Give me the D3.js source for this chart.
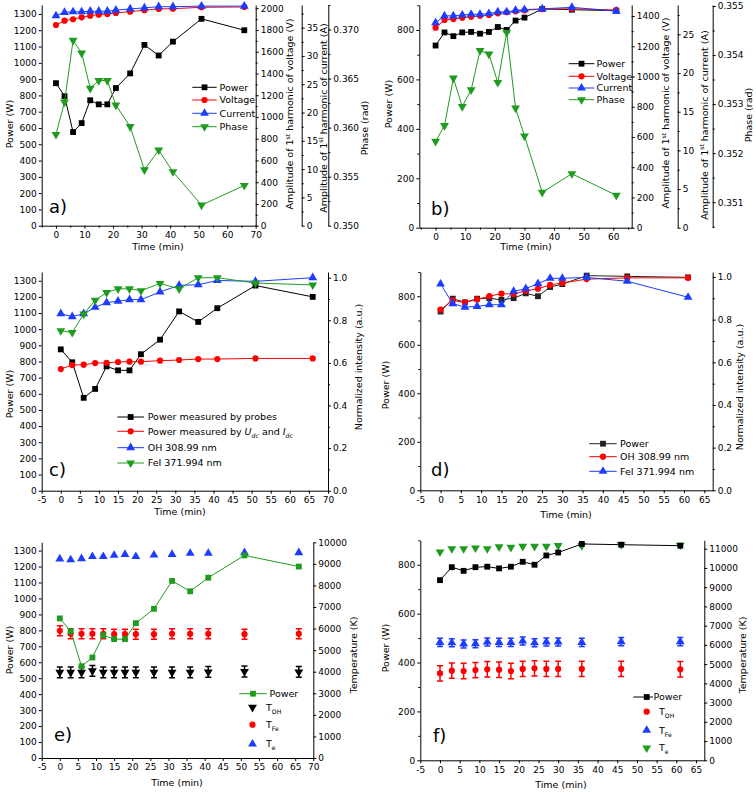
<!DOCTYPE html>
<html><head><meta charset="utf-8">
<script src="https://cdn.jsdelivr.net/npm/d3@7"></script>
<style>body{margin:0;background:#fff} text{font-family:"DejaVu Sans",sans-serif;fill:#000}</style>
</head><body><svg id="c" width="756" height="792"></svg>
<script>
// ---------- DATA ----------
const timeA = [0,3,6,9,12,15,18,21,26,31,36,41,51,66];
const timeB = [0,3,6,9,12,15,18,21,24,27,30,36,46,61];
// panel a / c / e
const powerA   = [875,795,575,630,770,745,745,845,935,1110,1045,1130,1270,1200];
const voltageA = [1846,1886,1899,1917,1932,1941,1948,1957,1969,1982,1994,1996,2009,2012];
const currentA = [37.1,37.7,37.8,37.8,37.9,37.9,37.9,38.1,38.3,38.5,38.7,38.7,38.8,38.8];
const phaseA   = [0.3593,0.3626,0.3689,0.3676,0.3640,0.3648,0.3648,0.3623,0.3601,0.3557,0.3577,0.3555,0.3521,0.3541];
// panel b / d / f
const powerB   = [737,790,775,790,792,785,792,812,800,838,850,885,882,878];
const voltageB = [1323,1374,1380,1389,1395,1402,1407,1418,1425,1431,1438,1446,1448,1440];
const currentB = [26.5,27.4,27.4,27.5,27.6,27.6,27.7,27.9,27.9,28.1,28.2,28.3,28.5,28.0];
const phaseB   = [0.35224,0.35256,0.35353,0.35295,0.35329,0.35409,0.35402,0.35344,0.35446,0.35292,0.35235,0.35120,0.35158,0.35114];
// panel c
const powerUdcIdcC = [753,778,780,790,792,797,799,799,805,809,815,815,819,819];
const ohC  = [0.831,0.817,0.831,0.861,0.883,0.890,0.897,0.897,0.933,0.964,0.967,0.987,0.983,1.0];
const feC  = [0.751,0.743,0.829,0.894,0.930,0.948,0.948,0.939,0.973,0.948,1.0,1.0,0.975,0.966];
// panel d
const ohD  = [0.847,0.890,0.880,0.895,0.910,0.922,0.920,0.935,0.945,0.963,0.972,0.990,0.996,0.996];
const feD  = [0.967,0.875,0.859,0.862,0.870,0.870,0.933,0.945,0.969,0.994,0.994,0.998,0.980,0.905];
// panel e (temperatures, K)
const tOhE = [3970,3970,3970,4040,3970,3970,3970,3970,3970,3970,3970,3990,4010,3990];
const tOhErrE = 250;
const tFeE = [5900,5760,5760,5760,5760,5740,5740,5740,5740,5760,5760,5760,5740,5760];
const tFeErrE = 230;
const tElE = [9230,9190,9240,9340,9340,9400,9440,9340,9410,9440,9490,9490,9520,9520];
// panel f (temperatures, K)
const tOhF = [4520,4660,4640,4690,4730,4710,4640,4750,4780,4750,4750,4750,4750,4730];
const tOhErrF = 400;
const tFeF = [6130,6110,6050,6060,6150,6130,6130,6200,6110,6150,6150,6130,6170,6170];
const tFeErrF = 210;
const tElF = [10830,11000,11000,11040,11000,11100,11070,11120,11120,11120,11160,11160,11210,11180];

const range = (a,b,s) => d3.range(a, b + s/2, s);
const plainInt = d => String(Math.round(d));

const C = {black:"#000", red:"#ff0000", blue:"#1c3cff", green:"#1f9c1f"};
const svg = d3.select('#c');
svg.append('rect').attr('width',756).attr('height',792).attr('fill','#fff');

function rich(sel, parts, size){
  let shift = 0;
  parts.forEach(p=>{
    const t = typeof p === 'string' ? {s:p,k:0} : p;
    const target = t.k===1 ? -size*0.4 : t.k===-1 ? size*0.3 : 0;
    const ts = sel.append('tspan').text(t.s);
    if (target - shift !== 0) ts.attr('dy', target - shift);
    if (t.k) ts.attr('font-size', size*0.65);
    if (t.it) ts.attr('font-style','italic');
    shift = target;
  });
}
function vtitle(g, x, cy, parts, size){
  const t = g.append('text').attr('transform',`translate(${x},${cy}) rotate(-90)`)
    .attr('y', size*0.36).attr('text-anchor','middle').attr('font-size',size);
  rich(t, parts, size);
}
function marker(g, type, cx, cy, color){
  const s = {square:d3.symbolSquare, circle:d3.symbolCircle, up:d3.symbolTriangle, down:d3.symbolTriangle}[type];
  const size = {square:34, circle:30, up:34, down:34}[type];
  g.append('path').attr('d', d3.symbol(s,size)())
    .attr('transform',`translate(${cx},${cy})${type==='down'?' rotate(180)':''}`)
    .attr('fill',color);
}
function styleAxis(sel){
  sel.selectAll('path,line').attr('stroke','#000').attr('stroke-width',1);
  sel.selectAll('text').attr('font-size',9).attr('fill','#000').style('font-family','"DejaVu Sans",sans-serif');
}
function panel(o){
  const g = svg.append('g');
  const x = d3.scaleLinear().domain(o.xDomain).range([o.L,o.R]);
  const y = d3.scaleLinear().domain(o.yDomain).range([o.B,o.T]);
  g.append('g').attr('transform',`translate(0,${o.B})`)
    .call(d3.axisBottom(x).tickValues(o.xTicks).tickSize(3).tickSizeOuter(0).tickPadding(3).tickFormat(plainInt))
    .call(styleAxis);
  if (o.xMinor) g.append('g').attr('transform',`translate(0,${o.B})`)
    .call(d3.axisBottom(x).tickValues(o.xMinor).tickSize(2).tickFormat(''))
    .call(s=>s.select('.domain').remove()).call(styleAxis);
  g.append('g').attr('transform',`translate(${o.L},0)`)
    .call(d3.axisLeft(y).tickValues(o.yTicks).tickSize(3).tickSizeOuter(0).tickPadding(2).tickFormat(plainInt))
    .call(styleAxis);
  if (o.yMinor) g.append('g').attr('transform',`translate(${o.L},0)`)
    .call(d3.axisLeft(y).tickValues(o.yMinor).tickSize(2).tickFormat(''))
    .call(s=>s.select('.domain').remove()).call(styleAxis);
  const rs = o.right.map(r=>{
    const s = d3.scaleLinear().domain(r.domain).range([o.B,o.T]);
    g.append('g').attr('transform',`translate(${r.x},0)`)
      .call(d3.axisRight(s).tickValues(r.ticks).tickSize(3).tickSizeOuter(0).tickPadding(2).tickFormat(r.fmt?d3.format(r.fmt):plainInt))
      .call(styleAxis);
    if (r.minor) g.append('g').attr('transform',`translate(${r.x},0)`)
      .call(d3.axisRight(s).tickValues(r.minor).tickSize(2).tickFormat(''))
      .call(q=>q.select('.domain').remove()).call(styleAxis);
    vtitle(g, r.tx, r.ty, r.title, 9.5);
    return s;
  });
  vtitle(g, o.lx, o.ly, ['Power (W)'], 9.5);
  g.append('text').attr('x',o.tx).attr('y',o.ty).attr('text-anchor','middle').attr('font-size',9.5).text('Time (min)');
  g.append('text').attr('x',o.labX).attr('y',o.labY).attr('font-size',18).text(o.label);
  return {g,x,y,rs};
}
function series(p, xs, ys, ys_, color, sym, opt={}){
  if (opt.line !== false){
    p.g.append('path').datum(xs.map((d,i)=>[d,ys[i]]))
      .attr('d', d3.line().x(d=>p.x(d[0])).y(d=>ys_(d[1])))
      .attr('fill','none').attr('stroke',opt.lc||color).attr('stroke-width',1);
  }
  xs.forEach((d,i)=>{
    const cx = p.x(d), cy = ys_(ys[i]);
    if (opt.err){
      const y1 = ys_(ys[i]+opt.err), y2 = ys_(ys[i]-opt.err);
      p.g.append('path').attr('d',`M${cx},${y1}V${y2}M${cx-3},${y1}H${cx+3}M${cx-3},${y2}H${cx+3}`)
        .attr('stroke',color).attr('stroke-width',1.5).attr('fill','none');
    }
    marker(p.g, sym, cx, cy, color);
  });
}
function legend(g, items, x1, x2, tx, size){
  items.forEach(it=>{
    if (it.line) g.append('line').attr('x1',x1).attr('x2',x2).attr('y1',it.y).attr('y2',it.y).attr('stroke',it.lc||it.c).attr('stroke-width',1);
    marker(g, it.sym, it.mx!==undefined?it.mx:(x1+x2)/2, it.y, it.c);
    const t = g.append('text').attr('x', it.tx!==undefined?it.tx:tx).attr('y', it.y + size*0.36).attr('font-size', size);
    rich(t, it.label, size);
  });
}

// ---------- PANEL a ----------
const pa = panel({L:41.7,R:255.7,T:5,B:225.7, xDomain:[-5,70], xTicks:range(0,70,10), xMinor:range(-5,65,10),
  yDomain:[0,1355], yTicks:range(0,1300,100),
  right:[
    {x:255.7, domain:[0,2030], ticks:range(0,2000,200), minor:range(100,1900,200), tx:290, ty:114, title:['Amplitude of 1',{s:'st',k:1},' harmonic of voltage (V)']},
    {x:301.7, domain:[0,39], ticks:range(0,35,5), minor:range(2.5,37.5,5), tx:323.5, ty:118, title:['Amplitude of 1',{s:'st',k:1},' harmonic of current (A)']},
    {x:328.3, domain:[0.350,0.3725], ticks:range(0.350,0.370,0.005), minor:range(0.3525,0.3725,0.005), fmt:'.3f', tx:365, ty:128, title:['Phase (rad)']}
  ],
  lx:10, ly:124, tx:158, ty:250, label:'a)', labX:49, labY:213});
series(pa, timeA, powerA, pa.y, C.black, 'square');
series(pa, timeA, voltageA, pa.rs[0], C.red, 'circle');
series(pa, timeA, currentA, pa.rs[1], C.blue, 'up');
series(pa, timeA, phaseA, pa.rs[2], C.green, 'down');
legend(pa.g, [
  {y:87.3, c:C.black, sym:'square', line:true, label:['Power']},
  {y:100, c:C.red, sym:'circle', line:true, label:['Voltage']},
  {y:113.3, c:C.blue, sym:'up', line:true, label:['Current']},
  {y:126.7, c:C.green, sym:'down', line:true, label:['Phase']}
], 192.3, 216.7, 219.5, 9.5);

// ---------- PANEL b ----------
const pb = panel({L:419.3,R:631.7,T:5,B:227.7, xDomain:[-5.5,66.2], xTicks:range(0,60,10), xMinor:range(-5,65,10),
  yDomain:[0,901], yTicks:range(0,800,200), yMinor:range(100,900,200),
  right:[
    {x:631.7, domain:[0,1473], ticks:range(0,1400,200), minor:range(100,1300,200), tx:666, ty:113, title:['Amplitude of 1',{s:'st',k:1},' harmonic of voltage (V)']},
    {x:677.7, domain:[0,28.8], ticks:range(0,25,5), minor:range(2.5,27.5,5), tx:704.3, ty:125, title:['Amplitude of 1',{s:'st',k:1},' harmonic of current (A)']},
    {x:712.7, domain:[0.35048,0.35502], ticks:range(0.351,0.355,0.001), minor:range(0.3505,0.3545,0.001), fmt:'.3f', tx:749, ty:115, title:['Phase (rad)']}
  ],
  lx:389, ly:104, tx:526, ty:250, label:'b)', labX:431, labY:215});
series(pb, timeB, powerB, pb.y, C.black, 'square');
series(pb, timeB, voltageB, pb.rs[0], C.red, 'circle');
series(pb, timeB, currentB, pb.rs[1], C.blue, 'up');
series(pb, timeB, phaseB, pb.rs[2], C.green, 'down');
legend(pb.g, [
  {y:63.7, c:C.black, sym:'square', line:true, label:['Power']},
  {y:76.3, c:C.red, sym:'circle', line:true, label:['Voltage']},
  {y:88, c:C.blue, sym:'up', line:true, label:['Current']},
  {y:99.7, c:C.green, sym:'down', line:true, label:['Phase']}
], 568.7, 594.3, 596.5, 9.5);

// ---------- PANEL c ----------
const pc = panel({L:41.7,R:328,T:272,B:490.7, xDomain:[-5,70], xTicks:range(-5,70,5),
  yDomain:[0,1354], yTicks:range(0,1300,100),
  right:[{x:328, domain:[0,1.0268], ticks:range(0,1.0,0.2), minor:range(0.1,0.9,0.2), fmt:'.1f', tx:358.5, ty:367, title:['Normalized intensity (a.u.)']}],
  lx:10, ly:394, tx:180, ty:515, label:'c)', labX:49, labY:476});
series(pc, timeA, powerA, pc.y, C.black, 'square');
series(pc, timeA, powerUdcIdcC, pc.y, C.red, 'circle');
series(pc, timeA, ohC, pc.rs[0], C.blue, 'up');
series(pc, timeA, feC, pc.rs[0], C.green, 'down');
legend(pc.g, [
  {y:417, c:C.black, sym:'square', line:true, label:['Power measured by probes']},
  {y:431.3, c:C.red, sym:'circle', line:true, label:['Power measured by ',{s:'U',it:true},{s:'dc',k:-1,it:true},' and ',{s:'I',it:true},{s:'dc',k:-1,it:true}]},
  {y:447.7, c:C.blue, sym:'up', line:true, label:['OH 308.99 nm']},
  {y:463, c:C.green, sym:'down', line:true, label:['FeI 371.994 nm']}
], 117.3, 144, 147.7, 9.5);

// ---------- PANEL d ----------
const pd = panel({L:420.3,R:712.7,T:272,B:490.3, xDomain:[-5,67.07], xTicks:range(-5,65,5),
  yDomain:[0,900], yTicks:range(0,800,200), yMinor:range(100,900,200),
  right:[{x:712.7, domain:[0,1.0234], ticks:range(0,1.0,0.2), minor:range(0.1,0.9,0.2), fmt:'.1f', tx:739.5, ty:387, title:['Normalized intensity (a.u.)']}],
  lx:386, ly:385, tx:566, ty:518, label:'d)', labX:431, labY:476});
series(pd, timeB, powerB, pd.y, "#222", 'square');
series(pd, timeB, ohD, pd.rs[0], C.red, 'circle');
series(pd, timeB, feD, pd.rs[0], C.blue, 'up');
legend(pd.g, [
  {y:443.7, c:"#222", sym:'square', line:true, label:['Power']},
  {y:456.7, c:C.red, sym:'circle', line:true, label:['OH 308.99 nm']},
  {y:471.3, c:C.blue, sym:'up', line:true, label:['FeI 371.994 nm']}
], 589.3, 616.7, 620, 9.5);

// ---------- PANEL e ----------
const pe = panel({L:41.7,R:313.3,T:542.3,B:758, xDomain:[-5,70], xTicks:range(-5,70,5),
  yDomain:[0,1352], yTicks:range(0,1300,100),
  right:[{x:313.3, domain:[0,10000], ticks:range(0,10000,1000), tx:354, ty:655, title:['Temperature (K)']}],
  lx:10, ly:650, tx:177, ty:786, label:'e)', labX:54, labY:741});
series(pe, timeA, tOhE, pe.rs[0], C.black, 'down', {line:false, err:tOhErrE});
series(pe, timeA, tFeE, pe.rs[0], C.red, 'circle', {line:false, err:tFeErrE});
series(pe, timeA, tElE, pe.rs[0], C.blue, 'up', {line:false});
series(pe, timeA, powerA, pe.y, C.green, 'square');
legend(pe.g, [
  {y:693.7, c:C.green, sym:'square', line:true, label:['Power']},
  {y:707.3, c:C.black, sym:'down', mx:252.5, tx:266, label:['T',{s:'OH',k:-1}]},
  {y:724.7, c:C.red, sym:'circle', mx:252.5, tx:266, label:['T',{s:'Fe',k:-1}]},
  {y:744, c:C.blue, sym:'up', mx:252.5, tx:266, label:['T',{s:'e',k:-1}]}
], 239.3, 266.7, 269.5, 9.5);

// ---------- PANEL f ----------
const pf = panel({L:420.3,R:704.3,T:540.3,B:760.3, xDomain:[-5,67.1], xTicks:range(-5,65,5),
  yDomain:[0,900], yTicks:range(0,800,200), yMinor:range(100,900,200),
  right:[{x:704.3, domain:[0,11437], ticks:range(0,11000,1000), tx:743, ty:655, title:['Temperature (K)']}],
  lx:386, ly:648, tx:561, ty:788, label:'f)', labX:433, labY:742});
series(pf, timeB, tOhF, pf.rs[0], C.red, 'circle', {line:false, err:tOhErrF});
series(pf, timeB, tFeF, pf.rs[0], C.blue, 'up', {line:false, err:tFeErrF});
series(pf, timeB, tElF, pf.rs[0], C.green, 'down', {line:false});
series(pf, timeB, powerB, pf.y, C.black, 'square');
legend(pf.g, [
  {y:697, c:C.black, sym:'square', line:true, mx:646.7, tx:653.5, label:['Power']},
  {y:711.7, c:C.red, sym:'circle', mx:646.7, tx:659, label:['T',{s:'OH',k:-1}]},
  {y:730.3, c:C.blue, sym:'up', mx:646.7, tx:659, label:['T',{s:'Fe',k:-1}]},
  {y:748, c:C.green, sym:'down', mx:646.7, tx:659, label:['T',{s:'e',k:-1}]}
], 633.3, 653, 653.5, 9.5);
</script></body></html>
